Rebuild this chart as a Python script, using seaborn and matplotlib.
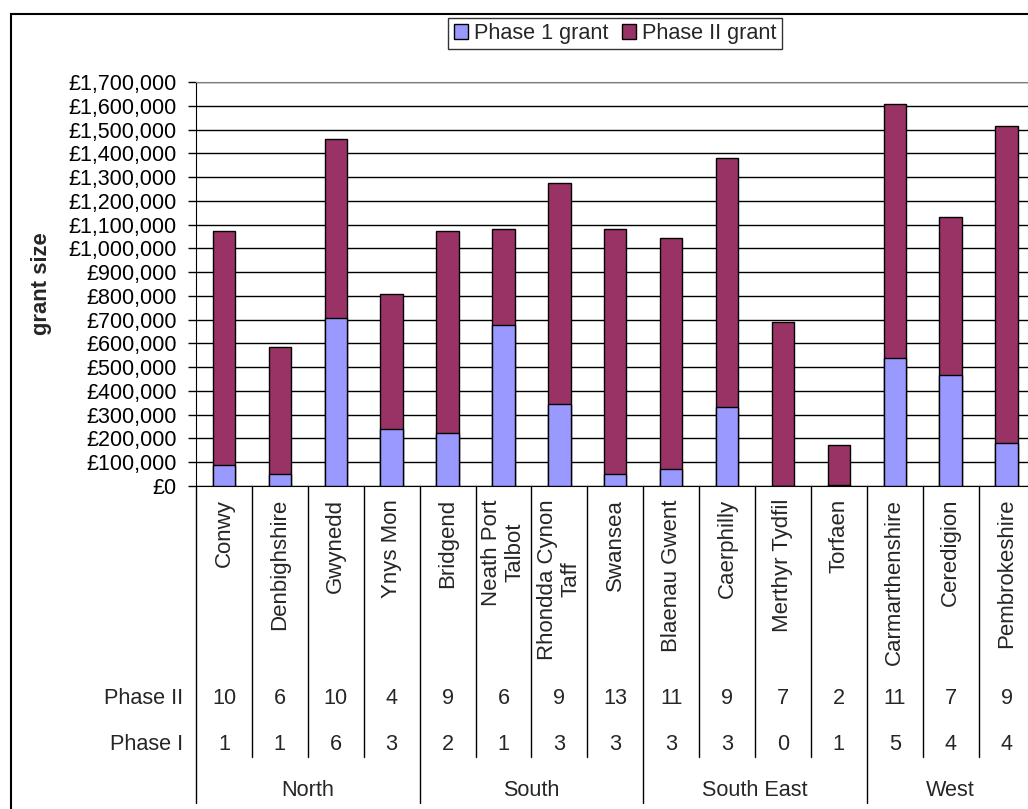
import pandas as pd
import seaborn as sns
import matplotlib.pyplot as plt
from matplotlib.patches import Patch, Rectangle
from matplotlib.lines import Line2D
from matplotlib import transforms
from matplotlib.ticker import FuncFormatter, MultipleLocator

## Datos
counties = ['Conwy', 'Denbighshire', 'Gwynedd', 'Ynys Mon', 'Bridgend',
            'Neath Port\nTalbot', 'Rhondda Cynon\nTaff', 'Swansea',
            'Blaenau Gwent', 'Caerphilly', 'Merthyr Tydfil', 'Torfaen',
            'Carmarthenshire', 'Ceredigion', 'Pembrokeshire']
phase1_grant = [88000, 49000, 709000, 239000, 225000, 678000, 344000, 49000,
                70000, 331000, 0, 6000, 540000, 465000, 180000]
phase2_grant = [987000, 535000, 752000, 571000, 846000, 405000, 930000, 1034000,
                974000, 1051000, 689000, 165000, 1067000, 668000, 1335000]
phase2_count = [10, 6, 10, 4, 9, 6, 9, 13, 11, 9, 7, 2, 11, 7, 9]
phase1_count = [1, 1, 6, 3, 2, 1, 3, 3, 3, 3, 0, 1, 5, 4, 4]
regions = ['North', 'South', 'South East', 'West']
region_sizes = [4, 4, 4, 3]

sns.set_style('white')
plt.rcParams['font.family'] = ['Liberation Sans', 'DejaVu Sans']

df = pd.DataFrame({'county': counties, 'p1': phase1_grant, 'p2': phase2_grant})
df['total'] = df['p1'] + df['p2']

fig = plt.figure(figsize=(10.28, 8.09), dpi=100)
# posicion del area de trazado en pixeles (se sale un poco por la derecha)
L, R, T, B = 196, 1034.5, 82, 486
ax = fig.add_axes([L / 1028, 1 - B / 809, (R - L) / 1028, (B - T) / 809])

sns.barplot(data=df, x='county', y='total', color='#993366', saturation=1,
            width=0.4, edgecolor='black', linewidth=1, ax=ax, zorder=3)
sns.barplot(data=df, x='county', y='p1', color='#9999FF', saturation=1,
            width=0.4, edgecolor='black', linewidth=1, ax=ax, zorder=4)

ax.set_xlim(-0.5, len(counties) - 0.5)
ax.set_ylim(0, 1700000)
ax.yaxis.set_major_locator(MultipleLocator(100000))
ax.yaxis.set_major_formatter(FuncFormatter(lambda v, p: '£{:,.0f}'.format(v)))
ax.grid(axis='y', color='black', lw=1, zorder=0)
ax.set_axisbelow(True)
ax.set_xticks([])
ax.set_xlabel('')
ax.set_ylabel('')
ax.tick_params(axis='y', direction='out', length=5.5, width=1, pad=8.5,
               labelsize=15.5, left=True, colors='black')
ax.spines['left'].set_color('black')
ax.spines['bottom'].set_color('black')
ax.spines['top'].set_color('#808080')
ax.spines['right'].set_color('#808080')

fig.text(42 / 1028, 1 - 284 / 809, 'grant size', rotation=90, ha='center',
         va='center', fontsize=15.8, fontweight='bold')

## Tabla de categorias debajo del eje
trans = transforms.blended_transform_factory(ax.transData, ax.transAxes)
FS = 15.6

def ay(px):
    return (B - px) / (B - T)

for i, name in enumerate(counties):
    ax.text(i, ay(499), name, rotation=90, ha='center', va='top',
            multialignment='center', linespacing=1.12, fontsize=16, transform=trans)
    ax.text(i, ay(699), str(phase2_count[i]), ha='center', va='center',
            fontsize=FS, transform=trans)
    ax.text(i, ay(745), str(phase1_count[i]), ha='center', va='center',
            fontsize=FS, transform=trans)

row_x = (183 - L) / (R - L)
ax.text(row_x, ay(699), 'Phase II', ha='right', va='center', fontsize=FS,
        transform=ax.transAxes)
ax.text(row_x, ay(745), 'Phase I', ha='right', va='center', fontsize=FS,
        transform=ax.transAxes)

bounds = [-0.5]
for s in region_sizes:
    bounds.append(bounds[-1] + s)
for i in range(len(counties) - 1):
    if i + 0.5 not in bounds:
        ax.add_line(Line2D([i + 0.5, i + 0.5], [0, ay(757)], color='black', lw=1,
                           transform=trans, clip_on=False))
for b in bounds:
    ax.add_line(Line2D([b, b], [0, ay(803)], color='black', lw=1,
                       transform=trans, clip_on=False))
for k, reg in enumerate(regions):
    ax.text((bounds[k] + bounds[k + 1]) / 2, ay(790), reg, ha='center',
            va='center', fontsize=FS, transform=trans)

## Leyenda
handles = [Patch(facecolor='#9999FF', edgecolor='black', label='Phase 1 grant'),
           Patch(facecolor='#993366', edgecolor='black', label='Phase II grant')]
leg = fig.legend(handles=handles, loc='center', bbox_to_anchor=(615 / 1028, 1 - 33.5 / 809),
                 ncol=2, fontsize=FS, frameon=True, fancybox=False, shadow=False,
                 handlelength=0.65, handleheight=0.65, handletextpad=0.3,
                 columnspacing=0.6, borderpad=0.25, borderaxespad=0)
leg.get_frame().set_edgecolor('black')
leg.get_frame().set_linewidth(1)

# marco exterior del grafico
fig.patches.append(Rectangle((11 / 1028, -0.1), 1.2, 1.1 - 14 / 809, fill=False,
                             edgecolor='black', lw=1.5, transform=fig.transFigure))

fig.savefig('out.png', dpi=100)
